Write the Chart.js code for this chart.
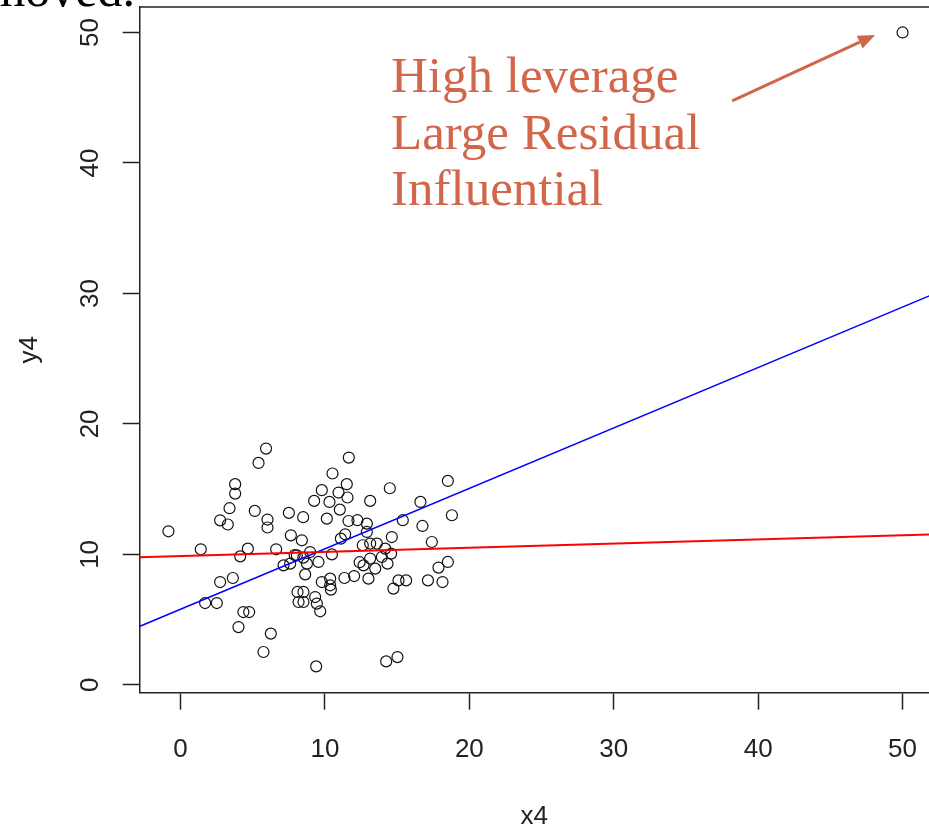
<!DOCTYPE html>
<html>
<head>
<meta charset="utf-8">
<script src="https://cdn.jsdelivr.net/npm/chart.js@4"></script>
<style>
  html, body { margin: 0; padding: 0; background: #fff; overflow: hidden; }
  #plot { display: block; }
</style>
</head>
<body>
<canvas id="plot" width="929" height="829"></canvas>
<script>
// x4 / y4 sample, read as pairs
const x4 = [
  5.92, 5.40, 3.78, 3.78, 3.39, 5.14, 7.50, 8.49, 2.74, 6.02, 6.02, 3.27, -0.84, 7.64, 8.40, 1.40, 4.66, 6.62, 4.13,
  11.65, 10.52, 11.51, 9.78, 10.94, 11.56, 9.25, 10.31, 11.03, 13.13, 14.49, 18.51, 16.61, 18.79, 10.13, 11.63, 12.25,
  12.90, 15.39, 16.75, 12.90, 11.40, 11.10, 14.63, 17.40, 12.62, 13.59, 14.17, 10.48, 14.58,
  8.75, 9.55, 8.63, 12.67, 13.13, 13.48, 13.94, 14.33, 17.86, 18.51, 9.78, 10.36, 10.36, 10.41, 11.35, 12.02, 13.01,
  15.09, 15.62, 14.74, 17.13, 18.14, 8.51, 8.51, 9.32, 9.44, 9.67, 9.39, 14.24, 15.02,
  2.74, 3.62, 1.70, 2.51, 4.35, 4.75, 4.01, 6.25, 5.74, 7.13, 7.59, 8.05, 8.10, 8.17,
  8.97, 7.90, 8.50, 12.40, 13.13,
  50.0
];
const y4 = [
  18.11, 17.01, 15.38, 14.66, 13.54, 13.33, 13.18, 12.85, 12.61, 12.67, 12.06, 12.29, 11.77, 11.46, 11.08, 10.39, 10.44, 10.39, 9.85,
  17.42, 16.20, 15.38, 14.92, 14.74, 14.36, 14.10, 14.02, 13.43, 14.10, 15.07, 15.63, 14.02, 13.00, 12.74, 12.56, 12.62,
  12.36, 12.62, 12.18, 11.72, 11.54, 11.21, 11.33, 10.95, 10.70, 10.83, 10.44, 10.00, 10.06,
  9.29, 9.42, 8.47, 9.16, 9.68, 8.91, 9.80, 9.29, 8.99, 9.42, 7.88, 8.14, 7.63, 7.30, 8.19, 8.34, 8.14,
  8.01, 8.01, 7.38, 8.01, 7.88, 7.12, 6.35, 6.73, 6.23, 5.64, 1.42, 1.80, 2.13,
  7.88, 8.19, 6.27, 6.27, 5.58, 5.58, 4.43, 3.93, 2.52, 9.16, 9.29, 9.93, 7.12, 6.35,
  10.18, 9.95, 9.75, 9.40, 10.83,
  50.0
];

// fitted lines, values at the two ends of the x range
const lineX = [-3, 52];
const fitAll = [4.41, 29.88];      // blue: fit with the outlier
const fitRest = [9.77, 11.53];     // red: fit without it

const xTicks = [0, 10, 20, 30, 40, 50];
const yTicks = [0, 10, 20, 30, 40, 50];
const xLabel = 'x4';
const yLabel = 'y4';
const noteLines = ['High leverage', 'Large Residual', 'Influential'];
const headerTail = 'removed.';

const ink = '#222';
const noteColor = '#d2664b';
const axisFont = '26px "Liberation Sans", Arial, sans-serif';

const points = x4.map((x, i) => ({ x: x, y: y4[i] }));
const toLine = (ys) => lineX.map((x, i) => ({ x: x, y: ys[i] }));

const decor = {
  id: 'decor',
  afterDraw(chart) {
    const { ctx, chartArea, scales } = chart;
    const xs = scales.x, ys = scales.y;
    ctx.save();

    // top edge of the box (right edge runs off the page)
    ctx.strokeStyle = ink;
    ctx.lineWidth = 1.5;
    ctx.beginPath();
    ctx.moveTo(chartArea.left, chartArea.top);
    ctx.lineTo(chart.width + 2, chartArea.top);
    ctx.stroke();

    // tick labels
    ctx.fillStyle = ink;
    ctx.font = axisFont;
    ctx.textAlign = 'center';
    ctx.textBaseline = 'middle';
    xTicks.forEach(v => ctx.fillText(String(v), xs.getPixelForValue(v), 750));
    yTicks.forEach(v => {
      ctx.save();
      ctx.translate(91, ys.getPixelForValue(v));
      ctx.rotate(-Math.PI / 2);
      ctx.fillText(String(v), 0, 0);
      ctx.restore();
    });

    // axis titles
    ctx.fillText(xLabel, (chartArea.left + 929) / 2, 817);
    ctx.save();
    ctx.translate(30, (chartArea.top + chartArea.bottom) / 2);
    ctx.rotate(-Math.PI / 2);
    ctx.fillText(yLabel, 0, 0);
    ctx.restore();

    // slide text running in from above
    ctx.font = '50px "Liberation Serif", "Times New Roman", serif';
    ctx.textAlign = 'right';
    ctx.textBaseline = 'alphabetic';
    ctx.fillStyle = '#000';
    ctx.fillText(headerTail, 135, 6);

    // note on the outlier
    ctx.font = '51px "Liberation Serif", "Times New Roman", serif';
    ctx.fillStyle = noteColor;
    ctx.textAlign = 'left';
    noteLines.forEach((t, i) => ctx.fillText(t, 391, 92 + i * 56.5));

    // arrow towards the outlier
    const x0 = xs.getPixelForValue(38.2), y0 = ys.getPixelForValue(44.75);
    const x1 = xs.getPixelForValue(48.1), y1 = ys.getPixelForValue(49.8);
    const ang = Math.atan2(y1 - y0, x1 - x0);
    const head = 17, half = 7;
    const bx = x1 - head * Math.cos(ang), by = y1 - head * Math.sin(ang);
    ctx.strokeStyle = noteColor;
    ctx.lineWidth = 3;
    ctx.beginPath();
    ctx.moveTo(x0, y0);
    ctx.lineTo(bx, by);
    ctx.stroke();
    ctx.beginPath();
    ctx.moveTo(x1, y1);
    ctx.lineTo(bx + half * Math.sin(ang), by - half * Math.cos(ang));
    ctx.lineTo(bx - half * Math.sin(ang), by + half * Math.cos(ang));
    ctx.closePath();
    ctx.fill();

    ctx.restore();
  }
};

new Chart(document.getElementById('plot'), {
  type: 'scatter',
  data: {
    datasets: [
      {
        data: points,
        order: 2,
        pointStyle: 'circle',
        pointRadius: 5.5,
        backgroundColor: 'rgba(0,0,0,0)',
        borderColor: '#111',
        borderWidth: 1.2,
        showLine: false
      },
      {
        type: 'line',
        data: toLine(fitAll),
        order: 1,
        borderColor: '#0000ff',
        borderWidth: 1.5,
        pointRadius: 0,
        fill: false
      },
      {
        type: 'line',
        data: toLine(fitRest),
        order: 0,
        borderColor: '#ff0000',
        borderWidth: 2,
        pointRadius: 0,
        fill: false
      }
    ]
  },
  options: {
    responsive: false,
    animation: false,
    devicePixelRatio: 1,
    events: [],
    layout: { autoPadding: false, padding: { top: 7, right: 0, bottom: 0, left: 0 } },
    plugins: { legend: { display: false }, tooltip: { enabled: false } },
    scales: {
      x: {
        type: 'linear',
        min: -2.83,
        max: 51.83,
        afterBuildTicks: s => { s.ticks = xTicks.map(v => ({ value: v })); },
        afterFit: s => { s.height = 136.3; },
        ticks: { display: false },
        grid: { drawOnChartArea: false, drawTicks: true, tickLength: 17, tickWidth: 1.5, tickColor: ink },
        border: { display: true, color: ink, width: 1.5 }
      },
      y: {
        type: 'linear',
        min: -0.6,
        max: 51.95,
        afterBuildTicks: s => { s.ticks = yTicks.map(v => ({ value: v })); },
        afterFit: s => { s.width = 139.7; },
        ticks: { display: false },
        grid: { drawOnChartArea: false, drawTicks: true, tickLength: 17, tickWidth: 1.5, tickColor: ink },
        border: { display: true, color: ink, width: 1.5 }
      }
    }
  },
  plugins: [decor]
});
</script>
</body>
</html>
